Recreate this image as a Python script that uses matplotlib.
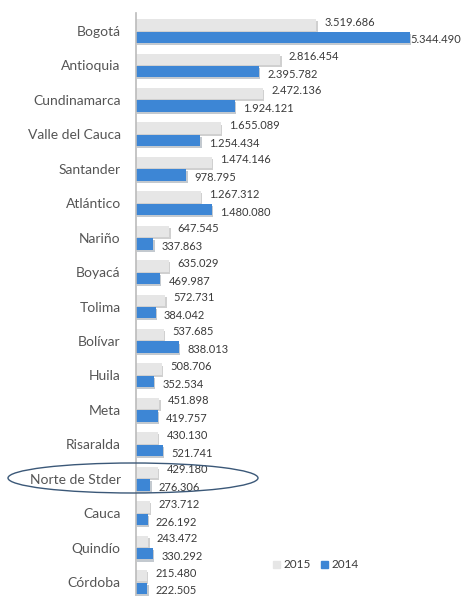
import numpy as np
import matplotlib
matplotlib.use('Agg')
import matplotlib.pyplot as plt
import matplotlib.patheffects as pe
from matplotlib.patches import Ellipse, Patch

plt.rcParams['font.family'] = ['Lato', 'DejaVu Sans']

depts = ['Bogotá', 'Antioquia', 'Cundinamarca', 'Valle del Cauca', 'Santander',
         'Atlántico', 'Nariño', 'Boyacá', 'Tolima', 'Bolívar', 'Huila', 'Meta',
         'Risaralda', 'Norte de Stder', 'Cauca', 'Quindío', 'Córdoba']
v2015 = [3519686, 2816454, 2472136, 1655089, 1474146, 1267312, 647545, 635029,
         572731, 537685, 508706, 451898, 430130, 429180, 273712, 243472, 215480]
v2014 = [5344490, 2395782, 1924121, 1254434, 978795, 1480080, 337863, 469987,
         384042, 838013, 352534, 419757, 521741, 276306, 226192, 330292, 222505]


def fmt(v):
    return f'{v:,}'.replace(',', '.')


W, H = 464, 596
fig = plt.figure(figsize=(W / 100, H / 100), dpi=100)
ax = fig.add_axes([136 / W, 0, 1 - 136 / W, (H - 13) / H])

gray = '#e6e6e6'
blue = '#3d86d5'
shadow = [pe.SimplePatchShadow(offset=(1, -1.5), alpha=0.25), pe.Normal()]

y = np.arange(len(depts))
off = 0.18
hgt = 0.33
b15 = ax.barh(y - off, v2015, height=hgt, color=gray)
b14 = ax.barh(y + off, v2014, height=hgt, color=blue)
for b in list(b15) + list(b14):
    b.set_path_effects(shadow)

big = max(v2014)
for yi, a, b in zip(y, v2015, v2014):
    ax.annotate(fmt(a), (a, yi - off), xytext=(6, 2), textcoords='offset points',
                ha='left', va='center', fontsize=8, color='#3a3a3a', annotation_clip=False)
    dx = 0 if b == big else 6
    ax.annotate(fmt(b), (b, yi + off), xytext=(dx, -2), textcoords='offset points',
                ha='left', va='center', fontsize=8, color='#3a3a3a', annotation_clip=False)

xmax = 5344490 * (W - 136) / (410 - 136)
ax.set_xlim(0, xmax)
ax.set_ylim(16 + 14 / 34.4, -18 / 34.4)
ax.set_yticks(y)
ax.set_yticklabels(depts, fontsize=10, color='#555555')
ax.tick_params(axis='y', length=0, pad=11)
ax.set_xticks([])
for s in ['top', 'right', 'bottom']:
    ax.spines[s].set_visible(False)
ax.spines['left'].set_color('#bbbbbb')
ax.spines['left'].set_linewidth(1.2)

handles = [Patch(color=gray, label='2015'), Patch(color=blue, label='2014')]
fig.legend(handles=handles, loc='center left', bbox_to_anchor=(262 / W, 1 - 565 / H),
           ncol=2, frameon=False, fontsize=8.5, handlelength=0.6, handleheight=0.6,
           handletextpad=0.3, columnspacing=0.9, labelcolor='#3a3a3a')

ell = Ellipse((133 / W, 1 - 478 / H), 250 / W, 30 / H, transform=fig.transFigure,
              fill=False, edgecolor='#3b5878', linewidth=1.0)
fig.patches.append(ell)

fig.savefig('out.png', dpi=100)
